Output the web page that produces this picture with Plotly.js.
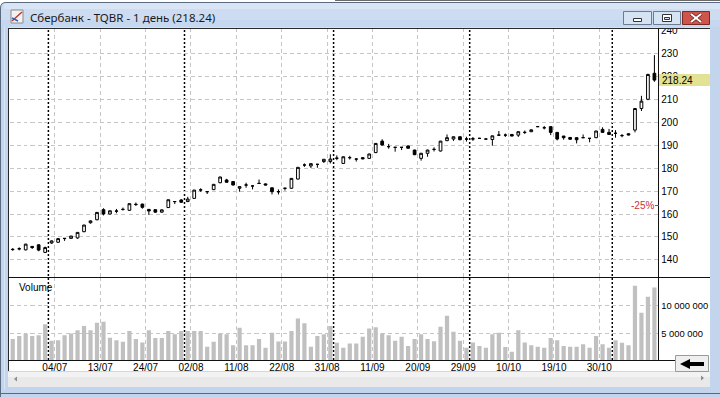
<!DOCTYPE html>
<html><head><meta charset="utf-8">
<script src="https://cdn.plot.ly/plotly-3.0.1.min.js"></script>
<style>html,body{margin:0;padding:0;background:#fff;overflow:hidden}#chart{width:720px;height:397px}</style>
</head><body><div id="chart"></div>
<script>
// ---------- DATA ----------
const dates = ['23/06','26/06','27/06','28/06','29/06','30/06',
'03/07','04/07','05/07','06/07','07/07','10/07','11/07','12/07','13/07','14/07','17/07','18/07','19/07','20/07','21/07','24/07','25/07','26/07','27/07','28/07','31/07',
'01/08','02/08','03/08','04/08','07/08','08/08','09/08','10/08','11/08','14/08','15/08','16/08','17/08','18/08','21/08','22/08','23/08','24/08','25/08','28/08','29/08','30/08','31/08',
'01/09','04/09','05/09','06/09','07/09','08/09','11/09','12/09','13/09','14/09','15/09','18/09','19/09','20/09','21/09','22/09','25/09','26/09','27/09','28/09','29/09',
'02/10','03/10','04/10','05/10','06/10','09/10','10/10','11/10','12/10','13/10','16/10','17/10','18/10','19/10','20/10','23/10','24/10','25/10','26/10','27/10','30/10','31/10',
'01/11','02/11','03/11','07/11','08/11','09/11','10/11'];

const openP = [144.5,144.8,144.4,145.9,146.6,143.3,147.4,147.7,149.3,149.4,149.6,152.3,156.2,157.5,161.9,160.0,161.2,162.0,161.6,164.1,
164.3,162.0,161.9,160.8,162.8,165.4,166.1,165.4,166.8,170.4,169.7,170.6,173.6,174.8,174.1,171.2,172.6,172.2,173.3,173.1,
171.4,169.7,171.2,171.2,175.2,181.3,180.9,181.6,182.8,182.8,184.2,182.0,184.5,183.9,184.5,184.2,186.7,191.7,189.3,189.0,
189.0,189.6,187.8,184.2,186.4,188.1,187.4,191.9,192.6,193.6,192.6,192.6,192.9,192.6,192.4,194.3,194.3,194.6,194.3,195.5,
195.8,198.0,197.5,198.0,195.5,193.9,193.3,193.2,193.2,192.9,193.2,196.8,195.5,195.1,194.1,194.9,196.5,205.9,209.9,221.2];
const highP = [145.2,145.5,147.0,146.1,146.8,145.8,148.5,149.4,149.5,150.5,152.1,155.3,157.2,160.8,162.5,161.5,162.2,162.8,164.6,165.0,
164.5,162.2,162.0,162.0,166.3,165.5,166.5,167.5,170.5,171.2,169.8,173.0,176.2,175.3,174.3,172.0,173.6,172.3,175.0,173.3,
171.5,170.7,171.3,175.6,180.4,182.0,182.0,181.7,183.9,186.0,185.5,185.0,185.3,184.0,184.8,186.2,190.8,192.5,190.5,189.1,
189.1,189.8,188.0,186.6,188.0,189.0,191.8,194.6,193.7,193.8,193.6,193.5,193.1,192.8,194.1,196.1,195.0,194.7,195.9,196.3,
196.8,198.3,198.3,198.1,195.6,194.0,193.4,193.3,194.6,193.0,196.2,197.7,197.0,196.5,194.8,195.0,206.0,211.4,221.0,229.1];
const lowP = [144.0,144.2,144.2,144.8,143.8,143.0,147.0,147.5,148.3,149.2,149.2,152.1,155.8,157.3,159.4,159.8,160.3,161.5,161.4,163.5,
162.3,159.6,160.6,160.6,162.6,164.3,164.8,165.2,166.6,169.6,168.7,170.4,173.4,173.6,172.4,169.7,171.4,170.7,173.2,172.5,
168.5,168.5,170.2,171.0,175.0,180.5,180.0,180.1,182.2,182.0,183.4,181.8,183.7,182.8,183.8,184.0,186.5,189.8,188.4,187.1,
187.8,188.4,185.6,183.2,184.9,187.2,187.2,191.7,191.8,192.1,191.5,191.8,192.7,192.4,189.7,194.2,193.5,193.8,193.5,194.8,
195.6,197.8,196.8,194.3,192.0,192.3,192.3,190.7,193.1,191.2,193.0,195.4,194.5,193.2,193.4,194.2,195.5,204.8,209.5,217.5];
const closeP = [144.6,144.9,146.9,145.4,144.3,145.4,148.3,149.3,149.4,150.4,152.0,155.2,157.0,160.7,160.0,161.4,161.3,162.0,164.5,164.2,
162.9,161.3,160.8,161.8,166.2,165.4,165.1,166.5,170.4,170.5,169.7,172.9,176.1,173.8,172.6,171.9,172.6,172.2,173.3,172.6,
169.7,169.7,171.2,175.5,180.3,181.3,181.9,181.6,183.8,183.9,184.3,184.9,184.5,183.9,184.0,186.1,190.7,190.0,189.3,189.0,
189.0,188.6,185.8,186.4,187.8,188.1,191.7,193.2,193.6,192.3,192.6,192.7,192.9,192.6,194.0,194.3,194.3,193.9,195.8,195.5,
196.6,198.0,197.5,195.5,192.6,193.2,192.5,192.3,193.2,192.9,196.1,195.5,194.6,195.1,194.1,194.4,205.9,209.1,220.7,218.24];

const volume = [4.0e6,4.55e6,5.0e6,4.55e6,4.7e6,6.65e6,3.7e6,3.8e6,4.7e6,5.0e6,5.6e6,6.35e6,5.6e6,6.95e6,7.1e6,4.25e6,3.8e6,3.5e6,5.45e6,4.0e6,
3.4e6,5.6e6,4.2e6,4.2e6,5.45e6,4.85e6,5.45e6,5.45e6,5.45e6,5.45e6,2.6e6,3.5e6,5.0e6,4.85e6,2.9e6,6.05e6,2.9e6,2.9e6,4.0e6,2.45e6,
5.15e6,3.55e6,3.55e6,5.45e6,7.7e6,6.85e6,2.6e6,4.55e6,4.85e6,6.35e6,3.35e6,2.45e6,3.2e6,3.2e6,4.4e6,5.9e6,6.1e6,5.0e6,4.7e6,3.7e6,
4.4e6,2.75e6,4.0e6,4.85e6,4.0e6,3.6e6,6.2e6,8.2e6,5.3e6,3.7e6,2.45e6,3.4e6,2.75e6,2.45e6,4.85e6,5.15e6,2.55e6,1.7e6,5.6e6,3.4e6,
2.9e6,2.6e6,2.45e6,4.2e6,3.8e6,2.75e6,2.6e6,2.6e6,3.05e6,2.45e6,4.55e6,3.05e6,2.45e6,3.8e6,3.35e6,2.9e6,13.6e6,8.75e6,11.6e6,13.25e6];

const tickLabels = ['04/07','13/07','24/07','02/08','11/08','22/08','31/08','11/09','20/09','29/09','10/10','19/10','30/10'];
const priceTicks = [140,150,160,170,180,190,200,210,220,230];
const topPriceTick = 240;
const volumeTicks = [5000000,10000000];
const volumeTickText = ['5 000 000','10 000 000'];
const titleText = 'Сбербанк - TQBR - 1 день (218.24)';
const lastClose = closeP[closeP.length-1];

// ---------- GEOMETRY / STYLE ----------
const W=720,H=397;
const PX=x=>x/W, PY=y=>1-y/H;
const idx = dates.map((d,i)=>i);
const tickvals = tickLabels.map(l=>dates.indexOf(l)-0.5);
const monthLines = [];
for(let i=1;i<dates.length;i++){ if(dates[i].slice(3)!==dates[i-1].slice(3)) monthLines.push(i-0.5); }

const tickFont = {family:'Liberation Sans, Arial, sans-serif', size:10, color:'#000'};
const volFont = {family:'Liberation Sans, Arial, sans-serif', size:9.4, color:'#000'};
const gridColor = '#c6c6c6';

function rect(x0,y0,x1,y1,fill,lc,lw){return {type:'rect',xref:'paper',yref:'paper',x0:PX(x0),x1:PX(x1),y0:PY(y1),y1:PY(y0),fillcolor:fill,line:{color:lc||fill,width:lw||0},layer:'above'};}
function seg(x0,y0,x1,y1,c,w,dash){return {type:'line',xref:'paper',yref:'paper',x0:PX(x0),x1:PX(x1),y0:PY(y0),y1:PY(y1),line:{color:c,width:w||1,dash:dash||'solid'},layer:'above'};}
function pth(pts,fill,lc,lw){
  const s = pts.map(p=>{const c=p[0];const nums=[];for(let k=1;k<p.length;k+=2){nums.push(PX(p[k])+','+PY(p[k+1]));}return c+nums.join(' ');}).join(' ');
  return {type:'path',xref:'paper',yref:'paper',path:s,fillcolor:fill,line:{color:lc||'rgba(0,0,0,0)',width:lw||0},layer:'above'};
}

const shapes = [];
shapes.push(seg(335,0.5,720,0.5,'#6a6a6a',1));
// window frame
shapes.push(pth([['M',0,27],['L',0,8],['Q',0,2,6,2],['L',720,2],['L',720,27.5],['L',0,27.5],['Z']],'#cddcf0'));
shapes.push(rect(4,3,720,9,'#d9e5f5'));
shapes.push(rect(0,20,720,27.5,'#c6d8ef'));
shapes.push(rect(0,27,8,397,'#c2d5ec'));
shapes.push(rect(710,27,720,397,'#c2d5ec'));
shapes.push(rect(0,387,720,397,'#c2d5ec'));
shapes.push(pth([['M',0.5,397],['L',0.5,8],['Q',0.5,2.5,6,2.5],['L',720,2.5]],'rgba(0,0,0,0)','#5a6a80',1));
shapes.push(seg(0,393.5,720,393.5,'#5a6a80',1));
shapes.push(seg(4.5,27,4.5,390,'#d8e5f5',1));
// icon
shapes.push(rect(11,10,23,23,'#f2f2f2','#8a8a8a',1));
shapes.push(seg(12,21,22,12,'#c0392b',1.5));
shapes.push(seg(12,18,18,21,'#3060c0',1.5));
// buttons
shapes.push(rect(623.5,11.5,651.5,24.5,'#d6e3f3','#6b7c92',1));
shapes.push(rect(633.5,18.5,641.5,21.5,'#ffffff','#333',1));
shapes.push(rect(653.5,11.5,680.5,24.5,'#d6e3f3','#6b7c92',1));
shapes.push(rect(662.5,14.5,671.5,21.5,'#ffffff','#333',1));
shapes.push(rect(664.5,17.5,669.5,19.5,'#d6e3f3','#333',1));
shapes.push(rect(682.5,11.5,709.5,24.5,'#cf5449','#7a2a25',1));
shapes.push(seg(691,14,701,22,'#5a1a16',3.5));
shapes.push(seg(691,22,701,14,'#5a1a16',3.5));
shapes.push(seg(691,14,701,22,'#ffffff',2));
shapes.push(seg(691,22,701,14,'#ffffff',2));
// scrollbar
shapes.push(rect(8,371,710,387,'#e9e9e9'));
shapes.push(rect(8,371,710,377,'#f2f2f2'));
shapes.push(seg(8,371.5,710,371.5,'#d6d6d6',1));
shapes.push(pth([['M',14,379],['L',17,376.5],['L',17,381.5],['Z']],'#8c8c8c'));
shapes.push(pth([['M',704,378],['L',701,375.5],['L',701,380.5],['Z']],'#8c8c8c'));
// arrow button
shapes.push(rect(675.5,355.5,708.5,371.5,'#efefef','#9a9a9a',1));
shapes.push(pth([['M',680,364],['L',690,359],['L',690,362],['L',704,362],['L',704,366],['L',690,366],['L',690,369],['Z']],'#000'));
// frame lines
shapes.push(seg(8,28.5,710,28.5,'#2a2a2a',1));
shapes.push(seg(8.5,28,8.5,371,'#2a2a2a',1));
shapes.push(seg(8,277.5,710,277.5,'#111',1));
shapes.push(seg(658.5,28,658.5,360,'#111',1));
shapes.push(seg(8,360.5,675,360.5,'#111',1));
// month separators
monthLines.forEach(m=>shapes.push({type:'line',xref:'x',yref:'paper',x0:m,x1:m,y0:PY(360),y1:PY(28),line:{color:'#000',width:1.5,dash:'2px,2px'},layer:'below'}));
// last price box
shapes.push({type:'rect',xref:'paper',yref:'y',x0:PX(659),x1:PX(710),y0:lastClose-2.6,y1:lastClose+2.6,fillcolor:'#e2e294',line:{width:0},layer:'above'});
shapes.push({type:'line',xref:'paper',yref:'y',x0:PX(655),x1:PX(659),y0:lastClose*0.75,y1:lastClose*0.75,line:{color:'#c83232',width:1},layer:'above'});

const annotations = [
  // top price label (clipped by the window title bar, as in the reference)
  {text:String(topPriceTick),xref:'paper',yref:'y',x:PX(659),y:topPriceTick,xanchor:'left',yanchor:'middle',showarrow:false,font:tickFont},
  {text:' ',xref:'paper',yref:'paper',x:PX(659),y:PY(25),xanchor:'left',yanchor:'top',width:26,height:3,bgcolor:'#c6d8ef',borderpad:0,borderwidth:0,showarrow:false,font:{size:1}},
  {text:' ',xref:'paper',yref:'paper',x:PX(659),y:PY(28),xanchor:'left',yanchor:'top',width:26,height:1,bgcolor:'#2a2a2a',borderpad:0,borderwidth:0,showarrow:false,font:{size:1}},
  {text:titleText,xref:'paper',yref:'paper',x:PX(28),y:PY(17),xanchor:'left',yanchor:'middle',showarrow:false,font:{family:'Noto Sans, Open Sans, sans-serif',size:11.5,color:'#1a1a1a'}},
  {text:'Volume',xref:'paper',yref:'paper',x:PX(17),y:PY(287),xanchor:'left',yanchor:'middle',showarrow:false,font:tickFont},
  {text:lastClose.toFixed(2),xref:'paper',yref:'y',x:PX(660),y:lastClose,xanchor:'left',yanchor:'middle',showarrow:false,font:tickFont},
  {text:'-25%',xref:'paper',yref:'y',x:PX(656),y:lastClose*0.75,xanchor:'right',yanchor:'middle',showarrow:false,font:{family:'Liberation Sans, Arial, sans-serif',size:10,color:'#c83232'}}
];

const traces = [
  {type:'candlestick',x:idx,open:openP,high:highP,low:lowP,close:closeP,xaxis:'x',yaxis:'y',
   increasing:{line:{color:'#000',width:1},fillcolor:'#ffffff'},
   decreasing:{line:{color:'#000',width:1},fillcolor:'#000000'},
   whiskerwidth:0,hoverinfo:'skip',showlegend:false},
  {type:'bar',x:idx,y:volume,xaxis:'x',yaxis:'y2',marker:{color:'#c0c0c0',line:{width:0}},hoverinfo:'skip',showlegend:false}
];

const layout = {
  width:W,height:H,margin:{l:0,r:0,t:0,b:0},paper_bgcolor:'#ffffff',plot_bgcolor:'#ffffff',
  showlegend:false,hovermode:false,bargap:0.35,boxgap:0.4,
  xaxis:{domain:[PX(9.5),PX(658.3)],range:[-0.5,99.6],anchor:'y2',type:'linear',tickmode:'array',tickvals:tickvals,ticktext:tickLabels,
    showgrid:true,gridcolor:gridColor,griddash:'4px,3px',gridwidth:1,zeroline:false,showline:false,ticks:'',tickfont:tickFont,rangeslider:{visible:false},fixedrange:true},
  yaxis:{domain:[PY(277),PY(28)],range:[132.6,240.9],side:'right',anchor:'x',tickmode:'array',tickvals:priceTicks,ticklabeloverflow:'allow',
    showgrid:true,gridcolor:gridColor,griddash:'4px,3px',zeroline:false,showline:false,ticks:'',ticklabelstandoff:2,tickfont:tickFont,fixedrange:true},
  yaxis2:{domain:[PY(360),PY(277)],range:[0.23e6,15.16e6],side:'right',anchor:'x',tickmode:'array',tickvals:volumeTicks,ticktext:volumeTickText,
    showgrid:true,gridcolor:gridColor,griddash:'4px,3px',zeroline:false,showline:false,ticks:'',ticklabelstandoff:2,tickfont:volFont,fixedrange:true},
  shapes:shapes,annotations:annotations
};

Plotly.newPlot('chart',traces,layout,{staticPlot:true,displayModeBar:false});
</script></body></html>
